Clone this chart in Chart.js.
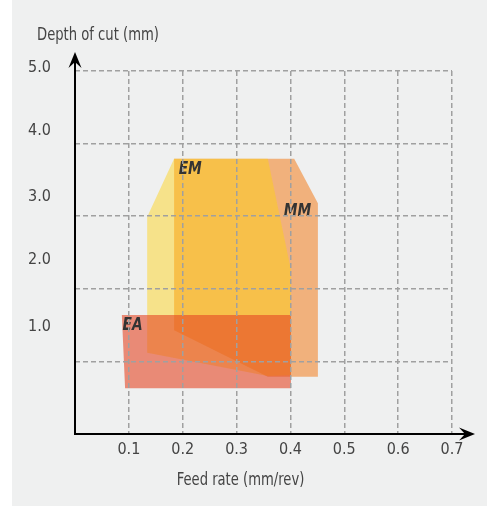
<!DOCTYPE html>
<html>
<head>
<meta charset="utf-8">
<script src="https://cdn.jsdelivr.net/npm/chart.js@4.4.1/dist/chart.umd.min.js"></script>
<style>
  html, body { margin: 0; padding: 0; background: #ffffff; }
  #panel { position: absolute; left: 12px; top: 0; width: 475px; height: 506px; background: #eff0f0; }
  canvas { display: block; }
</style>
</head>
<body>
<div id="panel"><canvas id="chart" width="475" height="506"></canvas></div>
<script>
// Feed-rate axis (mm/rev)
const feedTickLabels = ['', '0.1', '0.2', '0.3', '0.4', '0.5', '0.6', '0.7'];
// Depth-of-cut axis (mm): printed labels and the depth level each one sits at
const depthTickLabels = ['1.0', '2.0', '3.0', '4.0', '5.0'];
const depthLabelLevels = [1.48, 2.40, 3.27, 4.17, 5.04];

// Application areas of each grade: polygon corners (feed, depth)
const eaFeed  = [0.087, 0.401, 0.401, 0.093, 0.087];
const eaDepth = [1.64, 1.64, 0.63, 0.63, 1.64];
const emFeed  = [0.134, 0.184, 0.358, 0.401, 0.401, 0.358, 0.134, 0.134];
const emDepth = [2.99, 3.79, 3.79, 2.26, 0.81, 0.80, 1.12, 2.99];
const mmFeed  = [0.184, 0.407, 0.451, 0.451, 0.358, 0.184, 0.184];
const mmDepth = [3.79, 3.79, 3.18, 0.79, 0.79, 1.43, 3.79];

// Grade names and where they are written
const gradeNames = ['EA', 'EM', 'MM'];
const gradeLabelFeed = [0.107, 0.214, 0.413];
const gradeLabelDepth = [1.49, 3.64, 3.06];

const FONT = "'Liberation Sans Narrow', 'DejaVu Sans Condensed', sans-serif";
const TEXT = '#444444';

function toPoints(xs, ys) { return xs.map((x, i) => ({ x: x, y: ys[i] })); }

// Narrow text: draw with a horizontal squeeze around the anchor point
function narrowText(ctx, text, x, y, squeeze) {
  ctx.save();
  ctx.translate(x, y);
  ctx.scale(squeeze, 1);
  ctx.fillText(text, 0, 0);
  ctx.restore();
}

// Black axes with stealth arrowheads, axis titles
const axesPlugin = {
  id: 'axesPlugin',
  afterDraw(chart) {
    const { ctx, chartArea: a } = chart;
    const arrow = (tx, ty, dx, dy) => {
      const L = 16, W = 6.5, N = 10;
      const px = -dy, py = dx;
      ctx.beginPath();
      ctx.moveTo(tx, ty);
      ctx.lineTo(tx - dx * L + px * W, ty - dy * L + py * W);
      ctx.lineTo(tx - dx * N, ty - dy * N);
      ctx.lineTo(tx - dx * L - px * W, ty - dy * L - py * W);
      ctx.closePath();
      ctx.fill();
    };
    ctx.save();
    ctx.strokeStyle = '#000';
    ctx.fillStyle = '#000';
    ctx.lineWidth = 2;
    const yTip = a.top - 19;
    const xTip = a.right + 23;
    ctx.beginPath();
    ctx.moveTo(a.left, a.bottom + 1);
    ctx.lineTo(a.left, yTip + 9);
    ctx.moveTo(a.left - 1, a.bottom);
    ctx.lineTo(xTip - 9, a.bottom);
    ctx.stroke();
    arrow(a.left, yTip, 0, -1);
    arrow(xTip, a.bottom, 1, 0);

    ctx.fillStyle = TEXT;
    ctx.font = '17px ' + FONT;
    ctx.textBaseline = 'alphabetic';
    ctx.textAlign = 'left';
    narrowText(ctx, 'Depth of cut (mm)', a.left - 38, a.top - 31, 0.86);
    ctx.textAlign = 'center';
    narrowText(ctx, 'Feed rate (mm/rev)', (a.left + a.right) / 2 - 23, a.bottom + 51, 0.86);
    ctx.restore();
  }
};

// Grade names inside their areas
const gradeLabelPlugin = {
  id: 'gradeLabelPlugin',
  afterDatasetsDraw(chart) {
    const { ctx, scales } = chart;
    ctx.save();
    ctx.fillStyle = '#333333';
    ctx.font = 'italic bold 17px ' + FONT;
    ctx.textAlign = 'center';
    ctx.textBaseline = 'middle';
    gradeNames.forEach((name, i) => {
      narrowText(ctx, name,
        scales.x.getPixelForValue(gradeLabelFeed[i]),
        scales.y.getPixelForValue(gradeLabelDepth[i]), 0.9);
    });
    ctx.restore();
  }
};

const gridStyle = { color: '#a0a0a0', lineWidth: 1.5, drawTicks: false, z: 1 };
const dashedBorder = { display: false, dash: [5, 3] };

new Chart(document.getElementById('chart'), {
  type: 'scatter',
  data: {
    datasets: [
      { label: 'EA', data: toPoints(eaFeed, eaDepth), backgroundColor: 'rgba(229,70,37,0.6)' },
      { label: 'EM', data: toPoints(emFeed, emDepth), backgroundColor: 'rgba(255,209,13,0.45)' },
      { label: 'MM', data: toPoints(mmFeed, mmDepth), backgroundColor: 'rgba(243,125,29,0.55)' }
    ].map(d => Object.assign(d, {
      showLine: true, fill: 'shape', borderWidth: 0, borderColor: 'rgba(0,0,0,0)',
      pointRadius: 0, pointHoverRadius: 0, tension: 0
    }))
  },
  options: {
    responsive: false,
    animation: false,
    devicePixelRatio: 1,
    layout: { padding: { top: 71, right: 35, bottom: 0, left: 0 } },
    plugins: { legend: { display: false }, tooltip: { enabled: false }, title: { display: false } },
    scales: {
      x: {
        type: 'linear', min: 0, max: 0.7,
        ticks: {
          stepSize: 0.1, padding: 6, color: TEXT, font: { family: FONT, size: 16 },
          callback: (v) => feedTickLabels[Math.round(v * 10)] ?? ''
        },
        grid: gridStyle,
        border: dashedBorder,
        afterFit: s => { s.height = 72; }
      },
      y: {
        type: 'linear', min: 0, max: 5,
        ticks: { stepSize: 1, display: false },
        grid: gridStyle,
        border: dashedBorder,
        afterFit: s => { s.width = 0; }
      },
      yLab: {
        type: 'linear', position: 'left', min: 0, max: 5,
        grid: { display: false, drawTicks: false },
        border: { display: false },
        ticks: {
          padding: 24, color: TEXT, font: { family: FONT, size: 16 },
          callback: (v, i) => depthTickLabels[i]
        },
        afterBuildTicks: s => { s.ticks = depthLabelLevels.map(v => ({ value: v })); },
        afterFit: s => { s.width = 63; }
      }
    }
  },
  plugins: [gradeLabelPlugin, axesPlugin]
});
</script>
</body>
</html>
